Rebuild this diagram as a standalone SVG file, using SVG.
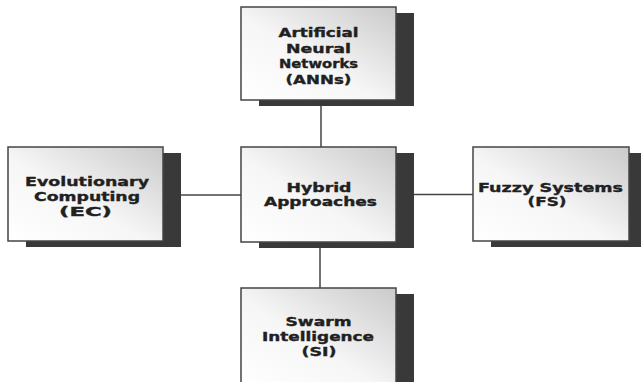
<svg xmlns="http://www.w3.org/2000/svg" width="641" height="382" viewBox="0 0 641 382">
<defs>
<linearGradient id="boxfill" x1="0" y1="1" x2="1" y2="0">
<stop offset="0" stop-color="#ffffff"/>
<stop offset="0.45" stop-color="#f6f6f6"/>
<stop offset="1" stop-color="#cacaca"/>
</linearGradient>
</defs>
<style>
.shadow{fill:#393939}
.box{fill:url(#boxfill);stroke:#444;stroke-width:1.5}
.conn{stroke:#444;stroke-width:1.5;fill:none}
.lbl{font-family:"DejaVu Sans",sans-serif;font-weight:bold;font-size:12.5px;fill:#202020;stroke:#202020;stroke-width:0.35;text-anchor:middle}
</style>
<rect width="641" height="382" fill="#ffffff"/>
<g id="connectors">
<line class="conn" x1="321" y1="100" x2="321" y2="147"/>
<line class="conn" x1="320" y1="242" x2="320" y2="288"/>
<line class="conn" x1="163" y1="195" x2="241" y2="195"/>
<line class="conn" x1="396" y1="194.5" x2="473" y2="194.5"/>
</g>
<g id="anns">
<rect class="shadow" x="259" y="13" width="155" height="93"/>
<rect class="box" x="241" y="7" width="155" height="93"/>
<text class="lbl" x="318.5" y="37" textLength="80" lengthAdjust="spacingAndGlyphs">Artificial</text>
<text class="lbl" x="318.5" y="52.5" textLength="65" lengthAdjust="spacingAndGlyphs">Neural</text>
<text class="lbl" x="318.5" y="68" textLength="79" lengthAdjust="spacingAndGlyphs">Networks</text>
<text class="lbl" x="318.5" y="83.5" textLength="66" lengthAdjust="spacingAndGlyphs">(ANNs)</text>
</g>
<g id="ec">
<rect class="shadow" x="26" y="153" width="155" height="94"/>
<rect class="box" x="8" y="147" width="155" height="94"/>
<text class="lbl" x="87" y="185.5" textLength="124" lengthAdjust="spacingAndGlyphs">Evolutionary</text>
<text class="lbl" x="87" y="200.5" textLength="106" lengthAdjust="spacingAndGlyphs">Computing</text>
<text class="lbl" x="85.5" y="215.5" textLength="53" lengthAdjust="spacingAndGlyphs">(EC)</text>
</g>
<g id="hybrid">
<rect class="shadow" x="259" y="153" width="155" height="95"/>
<rect class="box" x="241" y="147" width="155" height="95"/>
<text class="lbl" x="319" y="191.5" textLength="65" lengthAdjust="spacingAndGlyphs">Hybrid</text>
<text class="lbl" x="320.5" y="206" textLength="113" lengthAdjust="spacingAndGlyphs">Approaches</text>
</g>
<g id="fs">
<rect class="shadow" x="491" y="153" width="156" height="94"/>
<rect class="box" x="473" y="147" width="156" height="94"/>
<text class="lbl" x="550.5" y="191.5" textLength="145" lengthAdjust="spacingAndGlyphs">Fuzzy Systems</text>
<text class="lbl" x="547" y="206" textLength="39" lengthAdjust="spacingAndGlyphs">(FS)</text>
</g>
<g id="si">
<rect class="shadow" x="259" y="294" width="155" height="100"/>
<rect class="box" x="241" y="288" width="155" height="100"/>
<text class="lbl" x="318.5" y="325.5" textLength="66" lengthAdjust="spacingAndGlyphs">Swarm</text>
<text class="lbl" x="318" y="340.5" textLength="112" lengthAdjust="spacingAndGlyphs">Intelligence</text>
<text class="lbl" x="319" y="355.5" textLength="35" lengthAdjust="spacingAndGlyphs">(SI)</text>
</g>
</svg>
